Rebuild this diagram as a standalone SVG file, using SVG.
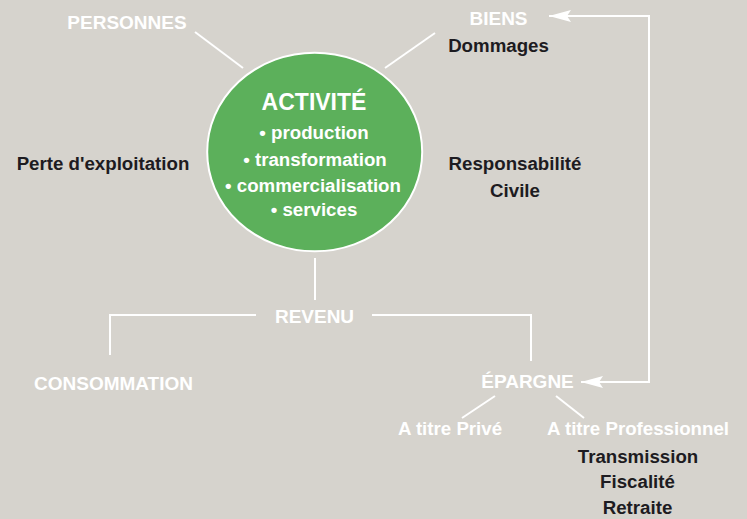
<svg xmlns="http://www.w3.org/2000/svg" width="747" height="519" viewBox="0 0 747 519">
<style>
text{font-family:"Liberation Sans",Arial,sans-serif;font-weight:bold;text-anchor:middle}
.w{fill:#ffffff;font-size:19px}
.k{fill:#1d1b21;font-size:18.7px}
.c{fill:#ffffff;font-size:18.7px}
.ln{stroke:#ffffff;stroke-width:2;fill:none}
</style>
<defs>
<marker id="ah" markerUnits="userSpaceOnUse" markerWidth="24" markerHeight="14" viewBox="0 -7 24 14" refX="22" refY="0" orient="auto-start-reverse">
<path d="M0,-6 L22,0 L0,6 L4,0 Z" fill="#ffffff"/>
</marker>
</defs>
<rect width="747" height="519" fill="#d6d3cd"/>
<g id="connectors">
<line class="ln" x1="195" y1="32" x2="243" y2="68"/>
<line class="ln" x1="435" y1="33" x2="385" y2="68"/>
<line class="ln" x1="315" y1="258" x2="315" y2="300"/>
<path class="ln" d="M256,315 H110 V355"/>
<path class="ln" d="M372,315 H531 V361"/>
<path class="ln" d="M549,16 H649 V382 H581" marker-start="url(#ah)" marker-end="url(#ah)"/>
<line class="ln" x1="495" y1="396" x2="462" y2="418"/>
<line class="ln" x1="556" y1="396" x2="584" y2="418"/>
</g>
<g id="activite">
<ellipse cx="314.7" cy="152" rx="107.5" ry="99.3" fill="#5cb05b" stroke="#ffffff" stroke-width="2"/>
<text x="314" y="110" fill="#ffffff" font-size="23">ACTIVITÉ</text>
<text class="c" x="314" y="139" font-size="18.5">• production</text>
<text class="c" x="315" y="166">• transformation</text>
<text class="c" x="313" y="192">• commercialisation</text>
<text class="c" x="314" y="216">• services</text>
</g>
<g id="personnes"><text class="w" x="127" y="29">PERSONNES</text></g>
<g id="biens"><text class="w" x="498.5" y="25">BIENS</text></g>
<g id="dommages"><text class="k" x="498.5" y="52">Dommages</text></g>
<g id="perte"><text class="k" x="103" y="170" font-size="19.3">Perte d'exploitation</text></g>
<g id="responsabilite"><text class="k" x="515" y="170">Responsabilité</text><text class="k" x="515" y="197">Civile</text></g>
<g id="revenu"><text class="w" x="314.5" y="323">REVENU</text></g>
<g id="consommation"><text class="w" x="113.5" y="390" font-size="20">CONSOMMATION</text></g>
<g id="epargne"><text class="w" x="527.5" y="388">ÉPARGNE</text></g>
<g id="prive"><text class="c" x="450" y="435">A titre Privé</text></g>
<g id="professionnel"><text class="c" x="638" y="435">A titre Professionnel</text></g>
<g id="pro-details">
<text class="k" x="638" y="463">Transmission</text>
<text class="k" x="637.5" y="488">Fiscalité</text>
<text class="k" x="637.5" y="514">Retraite</text>
</g>
</svg>
